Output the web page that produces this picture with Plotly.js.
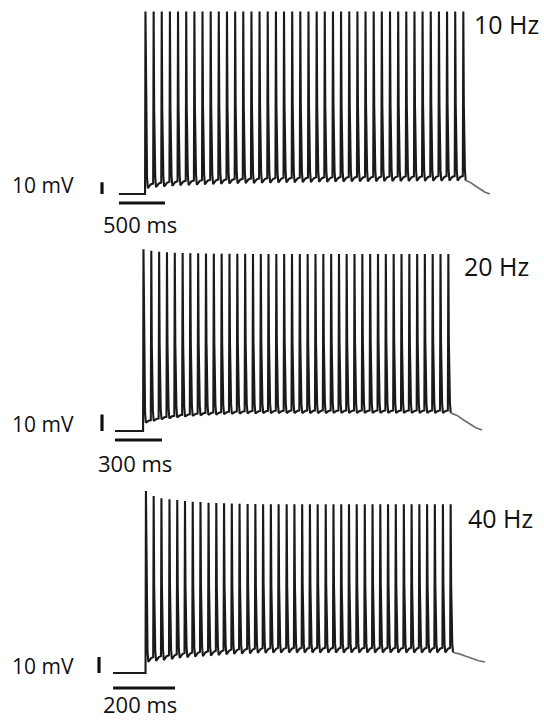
<!DOCTYPE html>
<html>
<head>
<meta charset="utf-8">
<script src="https://cdn.plot.ly/plotly-3.0.1.min.js"></script>
<style>html,body{margin:0;padding:0;background:#fff;}#chart{width:544px;height:720px;}</style>
</head>
<body>
<div id="chart"></div>
<script>
// ---------------- DATA ----------------
const panelLabels = ["10 Hz", "20 Hz", "40 Hz"];
const timeBarLabels = ["500 ms", "300 ms", "200 ms"];
const timeBarMs = [500, 300, 200];
const voltBarMv = 10;
const restMv = [-70, -70, -70];

// spike times (ms from stimulus onset)
const spikeTimes1 = [5, 94, 182, 271, 359, 448, 537, 625, 714, 802, 891, 980, 1068, 1157, 1245, 1334, 1423, 1511, 1600, 1688,
  1777, 1866, 1954, 2043, 2131, 2220, 2309, 2397, 2486, 2574, 2663, 2752, 2840, 2929, 3017, 3106, 3195, 3283, 3372, 3460];
const spikeTimes2 = [3, 53, 103, 153, 203, 253, 302, 352, 402, 452, 502, 552, 602, 652, 702, 752, 801, 851, 901, 951,
  1001, 1051, 1101, 1151, 1201, 1251, 1300, 1350, 1400, 1450, 1500, 1550, 1600, 1650, 1700, 1750, 1799, 1849, 1899, 1949];
const spikeTimes3 = [3, 28, 53, 79, 104, 129, 154, 179, 205, 230, 255, 280, 305, 331, 356, 381, 406, 431, 457, 482,
  507, 532, 557, 583, 608, 633, 658, 683, 709, 734, 759, 784, 809, 835, 860, 885, 910, 935, 961, 986];

// spike peak voltages (mV)
const peaks1 = [86, 86, 86, 86, 86, 86, 86, 86, 86, 86, 86, 86, 86, 86, 86, 86, 86, 86, 86, 86,
  86, 86, 86, 86, 86, 86, 86, 86, 86, 86, 86, 86, 86, 86, 86, 86, 86, 86, 86, 86];
const peaks2 = [40.1, 39.3, 38.7, 38.3, 38.1, 37.9, 37.8, 37.7, 37.6, 37.5, 37.5, 37.4, 37.4, 37.4, 37.3, 37.3, 37.3, 37.3, 37.3, 37.3,
  37.3, 37.3, 37.3, 37.3, 37.3, 37.3, 37.3, 37.3, 37.3, 37.3, 37.3, 37.3, 37.3, 37.3, 37.3, 37.3, 37.3, 37.3, 37.3, 37.3];
const peaks3 = [43.8, 40.6, 39.2, 38.6, 38.1, 37.5, 37.1, 36.9, 36.4, 36.3, 36.1, 35.9, 35.8, 35.6, 35.6, 35.5, 35.5, 35.5, 35.4, 35.4,
  35.4, 35.4, 35.4, 35.4, 35.4, 35.4, 35.4, 35.4, 35.4, 35.4, 35.4, 35.4, 35.4, 35.4, 35.4, 35.4, 35.4, 35.4, 35.4, 35.4];

// after-spike trough voltages (mV)
const troughs1 = [-65.0, -64.2, -63.6, -63.1, -62.7, -62.4, -62.1, -61.8, -61.6, -61.4, -61.2, -61.0, -60.8, -60.7, -60.5, -60.4, -60.2, -60.1, -60.0, -59.9,
  -59.8, -59.7, -59.6, -59.5, -59.4, -59.3, -59.3, -59.2, -59.1, -59.0, -59.0, -58.9, -58.9, -58.8, -58.8, -58.7, -58.7, -58.6, -58.6, -58.5];
const troughs2 = [-65.0, -63.9, -62.9, -62.3, -61.7, -61.3, -60.9, -60.5, -60.3, -60.1, -59.8, -59.7, -59.5, -59.3, -59.3, -59.2, -59.2, -59.2, -59.1, -59.1,
  -59.1, -59.1, -59.1, -59.1, -59.0, -59.0, -59.0, -59.0, -59.0, -59.0, -59.0, -59.0, -59.0, -59.0, -59.0, -59.0, -59.0, -59.0, -59.0, -59.0];
const troughs3 = [-63.1, -62.5, -61.9, -61.3, -60.6, -60.2, -59.8, -59.4, -59.1, -58.8, -58.4, -58.1, -57.9, -57.7, -57.5, -57.4, -57.3, -57.3, -57.2, -57.2,
  -57.2, -57.2, -57.2, -57.2, -57.2, -57.2, -57.2, -57.2, -57.2, -57.2, -57.2, -57.2, -57.2, -57.2, -57.2, -57.2, -57.2, -57.2, -57.2, -57.2];

// depolarising ramp between spikes (mV above trough)
const ramp = [4, 1.5, 3];
// pre-stimulus start (ms), end of recording (ms) and end voltage (mV)
const recStartMs = [-283, -179, -103];
const recEndMs = [3750, 2164, 1097];
const recEndMv = [-70, -69.4, -63.1];

// ---------------- LAYOUT GEOMETRY (pixels) ----------------
const W = 544, H = 720;
const geo = [
  {onsetPx: 145, pxPerMs: 46 / 500, restPx: 194, pxPerMv: 1.17, vbarPx: 102, tbarPx: 203},
  {onsetPx: 143, pxPerMs: 47 / 300, restPx: 431, pxPerMv: 1.65, vbarPx: 102, tbarPx: 440},
  {onsetPx: 145, pxPerMs: 62 / 200, restPx: 673, pxPerMv: 1.60, vbarPx: 99,  tbarPx: 688}
];

// spike waveform shape (offsets in px, fraction of amplitude)
const fallShape = [[0.5, 0.45], [1.0, 0.18], [1.6, 0.06], [2.4, 0.0]];
const riseShape = [[3.8, 0.45], [5.2, 0.8]];
const tailShape = [[0, 0], [0.2, 0.15], [0.4, 0.4], [0.6, 0.65], [0.8, 0.87], [1, 1]];

function buildTrace(p, times, peaks, troughs) {
  const g = geo[p];
  const ms = d => d / g.pxPerMs;
  const x = [recStartMs[p], times[0] - ms(0.4)];
  const y = [restMv[p], restMv[p]];
  for (let i = 0; i < times.length; i++) {
    const t = times[i], P = peaks[i], Tr = troughs[i];
    if (i > 0) { x.push(t - ms(0.5)); y.push(troughs[i - 1] + ramp[p]); }
    x.push(t); y.push(P);
    fallShape.forEach(([d, f]) => { x.push(t + ms(d)); y.push(Tr + f * (P - Tr)); });
    if (i < times.length - 1) riseShape.forEach(([d, f]) => { x.push(t + ms(d)); y.push(Tr + f * ramp[p]); });
  }
  const last = times.length - 1;
  const t0 = times[last] + ms(2.4), v0 = troughs[last];
  const tx = [], ty = [];
  tailShape.forEach(([ft, fv]) => { tx.push(t0 + ft * (recEndMs[p] - t0)); ty.push(v0 + fv * (recEndMv[p] - v0)); });
  return {x, y, tx, ty};
}

const sets = [[spikeTimes1, peaks1, troughs1], [spikeTimes2, peaks2, troughs2], [spikeTimes3, peaks3, troughs3]];
const traces = [];
const shapes = [];
const annotations = [];
const layout = {
  width: W, height: H, margin: {l: 0, r: 0, t: 0, b: 0},
  paper_bgcolor: '#ffffff', plot_bgcolor: 'rgba(0,0,0,0)', showlegend: false,
  font: {family: 'Open Sans, sans-serif', color: '#111'}
};

sets.forEach((s, p) => {
  const g = geo[p];
  const sfx = p === 0 ? '' : String(p + 1);
  const xa = 'x' + sfx, ya = 'y' + sfx;
  const xr = [-g.onsetPx / g.pxPerMs, (W - g.onsetPx) / g.pxPerMs];
  const yr = [restMv[p] - (H - g.restPx) / g.pxPerMv, restMv[p] + g.restPx / g.pxPerMv];
  layout['xaxis' + sfx] = {domain: [0, 1], range: xr, visible: false, fixedrange: true, anchor: ya};
  layout['yaxis' + sfx] = {domain: [0, 1], range: yr, visible: false, fixedrange: true, anchor: xa};
  const tr = buildTrace(p, s[0], s[1], s[2]);
  traces.push({type: 'scatter', mode: 'lines', x: tr.x, y: tr.y, xaxis: xa, yaxis: ya,
    line: {color: '#1a1a1a', width: 2.1}, hoverinfo: 'skip'});
  traces.push({type: 'scatter', mode: 'lines', x: tr.tx, y: tr.ty, xaxis: xa, yaxis: ya,
    line: {color: '#6e6e6e', width: 1.7}, hoverinfo: 'skip'});
  // scale bars
  const vbarX = (g.vbarPx - g.onsetPx) / g.pxPerMs;
  const tbarY = restMv[p] - (g.tbarPx - g.restPx) / g.pxPerMv;
  shapes.push({type: 'line', xref: xa, yref: ya, x0: vbarX, x1: vbarX, y0: restMv[p], y1: restMv[p] + voltBarMv,
    line: {color: '#111', width: 3.2}});
  shapes.push({type: 'line', xref: xa, yref: ya, x0: recStartMs[p], x1: recStartMs[p] + timeBarMs[p], y0: tbarY, y1: tbarY,
    line: {color: '#111', width: 3.2}});
});

const textPos = [
  {mv: [10, 185.5], ms: [101, 223.5], hz: [472, 24]},
  {mv: [10, 424], ms: [96, 462.5], hz: [462, 266]},
  {mv: [10, 665.5], ms: [102, null], hz: [466, 518]}
];
textPos.forEach((t, p) => {
  annotations.push({xref: 'paper', yref: 'paper', x: t.mv[0] / W, y: 1 - t.mv[1] / H, xanchor: 'left', yanchor: 'middle',
    text: voltBarMv + ' mV', showarrow: false, font: {size: 21, color: '#111'}});
  const msAnn = {xref: 'paper', yref: 'paper', x: t.ms[0] / W, xanchor: 'left', showarrow: false,
    text: timeBarLabels[p], font: {size: 22, color: '#111'}};
  if (t.ms[1] === null) { msAnn.y = 0; msAnn.yanchor = 'bottom'; msAnn.borderpad = 0; }
  else { msAnn.y = 1 - t.ms[1] / H; msAnn.yanchor = 'middle'; }
  annotations.push(msAnn);
  annotations.push({xref: 'paper', yref: 'paper', x: t.hz[0] / W, y: 1 - t.hz[1] / H, xanchor: 'left', yanchor: 'middle',
    text: panelLabels[p], showarrow: false, font: {size: 25, color: '#111'}});
});
layout.shapes = shapes;
layout.annotations = annotations;

Plotly.newPlot('chart', traces, layout, {displayModeBar: false, staticPlot: true});
</script>
</body>
</html>
